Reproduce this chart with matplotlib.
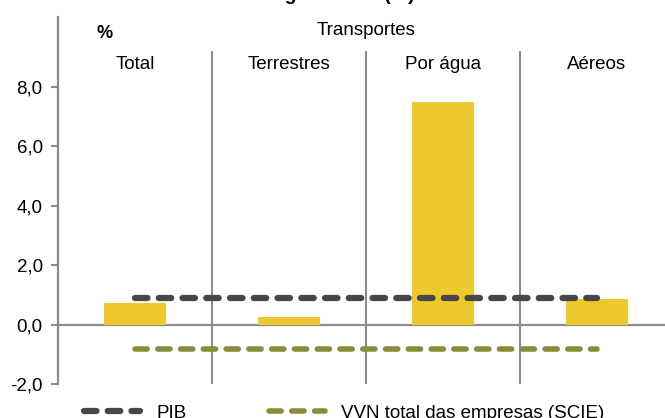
import numpy as np
import matplotlib
matplotlib.use('Agg')
import matplotlib.pyplot as plt

plt.rcParams['font.family'] = ['Liberation Sans', 'DejaVu Sans']

# dados (%)
categorias = ['Total', 'Terrestres', 'Por água', 'Aéreos']
vvn_transportes = [0.72, 0.25, 7.49, 0.87]
pib = [0.88, 0.88, 0.88, 0.88]
vvn_total = [-0.81, -0.81, -0.81, -0.81]
yticks = [-2, 0, 2, 4, 6, 8]
ytick_labels = ['-2,0', '0,0', '2,0', '4,0', '6,0', '8,0']

cor_barra = '#EDC92D'
cor_pib = '#4A4646'
cor_vvn = '#8A8C38'
cor_eixo = '#8C8C8C'

x = np.arange(len(categorias))

fig = plt.figure(figsize=(6.65, 4.18), dpi=100)
ax = fig.add_axes([58/665, 34/418, 616/665, 367/418])

ax.bar(x, vvn_transportes, width=0.4, color=cor_barra, zorder=2)
l1, = ax.plot(x, pib, color=cor_pib, lw=4.5, dashes=(2.0, 1.8),
              dash_capstyle='round', zorder=3, label='PIB')
l2, = ax.plot(x, vvn_total, color=cor_vvn, lw=4.0, dashes=(2.2, 1.9),
              dash_capstyle='round', zorder=3, label='VVN total das empresas (SCIE)')

ax.axhline(0, color=cor_eixo, lw=1.6, zorder=1)
ax.vlines([0.5, 1.5, 2.5], -2, 9.2, color=cor_eixo, lw=1.5, zorder=1)

ax.set_xlim(-0.5, 3.5)
ax.set_ylim(-2, 10.35)
ax.set_xticks([])
ax.set_yticks(yticks)
ax.set_yticklabels(ytick_labels)
ax.tick_params(axis='y', direction='out', length=5, width=1.5, color=cor_eixo,
               pad=6, labelsize=13.5)
for s in ['top', 'right', 'bottom']:
    ax.spines[s].set_visible(False)
ax.spines['left'].set_color(cor_eixo)
ax.spines['left'].set_linewidth(1.6)

for i, c in enumerate(categorias):
    ax.text(x[i], 8.74, c, ha='center', va='center', fontsize=13.5)
ax.text(1.5, 9.88, 'Transportes', ha='center', va='center', fontsize=13.5)
ax.text(-0.195, 9.8, '%', ha='center', va='center', fontsize=13, fontweight='bold')

fig.text(0.5, 1 - 0.5/418, 'Margem bruta (%)', ha='center', va='baseline',
         fontsize=14, fontweight='bold')

fig.legend(handles=[l1, l2], loc='center left', bbox_to_anchor=(84/665, 5/418),
           ncol=2, frameon=False, fontsize=13.5, handlelength=3.0,
           handletextpad=0.85, columnspacing=4.4, borderpad=0, borderaxespad=0)

fig.savefig('out.png', dpi=100)
